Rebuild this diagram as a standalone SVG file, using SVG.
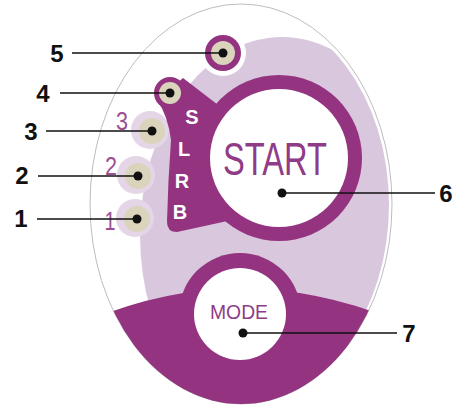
<svg xmlns="http://www.w3.org/2000/svg" width="455" height="405" viewBox="0 0 455 405">
<style>
.dark{fill:#94337f}
.light{fill:#d8c7dd}
.halo{fill:#e4d6e7}
.beige{fill:#dad4bc}
.lbl{font-family:"Liberation Sans",Arial,sans-serif;font-weight:bold;font-size:24px;fill:#111;text-anchor:middle}
.letter{font-family:"Liberation Sans",Arial,sans-serif;font-weight:bold;font-size:20px;fill:#fff;text-anchor:middle}
.num{font-family:"Liberation Sans",Arial,sans-serif;font-size:25px;fill:#9b4f92;text-anchor:middle}
.lead{stroke:#111;stroke-width:1.5;fill:none}
.dot{fill:#111}
</style>
<defs>
<clipPath id="body"><ellipse cx="241" cy="204" rx="151" ry="200"/></clipPath>
<clipPath id="inner"><ellipse cx="241" cy="205" rx="148" ry="197"/></clipPath>
</defs>
<g id="panel">
<ellipse cx="241" cy="204" rx="151" ry="200" fill="#fff" stroke="#bdbdbd" stroke-width="1"/>
<g clip-path="url(#inner)">
<ellipse class="light" cx="282" cy="235" rx="142" ry="198"/>
</g>
<circle fill="#fff" cx="223" cy="53" r="23"/>
<g clip-path="url(#body)">
<path class="dark" d="M 85 322 Q 240 255 400 322 L 400 420 L 85 420 Z"/>
</g>
</g>
<g id="node-1">
<circle class="halo" cx="135" cy="218" r="19"/>
<circle class="beige" cx="137" cy="219" r="13"/>
<text class="num" x="110" y="230" textLength="11" lengthAdjust="spacingAndGlyphs">1</text>
</g>
<g id="node-2">
<circle class="halo" cx="136" cy="175" r="19"/>
<circle class="beige" cx="138" cy="176" r="13"/>
<text class="num" x="111" y="175" textLength="12" lengthAdjust="spacingAndGlyphs">2</text>
</g>
<g id="node-3">
<circle class="halo" cx="150" cy="130" r="19"/>
<circle class="beige" cx="152" cy="131" r="13"/>
<text class="num" x="122" y="130" textLength="12" lengthAdjust="spacingAndGlyphs">3</text>
</g>
<g id="slrb">
<path class="dark" d="M 157 100 Q 168 116 171 140 Q 168 180 167 222 Q 167 232 177 232 L 232 220 L 240 150 L 222 108 L 183 78 Z"/>
<text class="letter" x="192" y="124">S</text>
<text class="letter" x="184" y="156">L</text>
<text class="letter" x="182" y="188">R</text>
<text class="letter" x="180" y="219">B</text>
</g>
<g id="node-4">
<circle class="dark" cx="170" cy="93" r="16"/>
<circle class="beige" cx="170" cy="93" r="11"/>
</g>
<g id="node-5">
<circle class="dark" cx="223" cy="53" r="18"/>
<circle class="beige" cx="223" cy="53" r="12"/>
</g>
<g id="node-6">
<circle class="dark" cx="279" cy="158" r="83"/>
<circle fill="#fff" cx="279" cy="158" r="69"/>
<text x="275" y="175" font-family="'Liberation Sans',Arial,sans-serif" font-size="46" fill="#8f3b87" textLength="104" lengthAdjust="spacingAndGlyphs" text-anchor="middle">START</text>
</g>
<g id="node-7">
<circle class="dark" cx="240" cy="314" r="61"/>
<circle fill="#fff" cx="240" cy="314" r="46"/>
<text x="239" y="319" font-family="'Liberation Sans',Arial,sans-serif" font-size="21" fill="#8f3b87" textLength="58" lengthAdjust="spacingAndGlyphs" text-anchor="middle">MODE</text>
</g>
<g id="connectors">
<line class="lead" x1="72" y1="53" x2="223" y2="53"/>
<circle class="dot" cx="223" cy="53" r="4.5"/>
<line class="lead" x1="60" y1="93" x2="170" y2="93"/>
<circle class="dot" cx="170" cy="93" r="4.5"/>
<line class="lead" x1="46" y1="131" x2="152" y2="131"/>
<circle class="dot" cx="152" cy="131" r="4.5"/>
<line class="lead" x1="38" y1="176" x2="138" y2="176"/>
<circle class="dot" cx="138" cy="176" r="4.5"/>
<line class="lead" x1="37" y1="219" x2="137" y2="219"/>
<circle class="dot" cx="137" cy="219" r="4.5"/>
<line class="lead" x1="282" y1="193" x2="435" y2="193"/>
<circle class="dot" cx="282" cy="193" r="4.5"/>
<line class="lead" x1="243" y1="333" x2="397" y2="333"/>
<circle class="dot" cx="243" cy="333" r="4.5"/>
</g>
<g id="labels">
<text class="lbl" x="57" y="62">5</text>
<text class="lbl" x="43" y="102">4</text>
<text class="lbl" x="31" y="140">3</text>
<text class="lbl" x="22" y="184">2</text>
<text class="lbl" x="21" y="227">1</text>
<text class="lbl" x="446" y="202">6</text>
<text class="lbl" x="409" y="342">7</text>
</g>
</svg>
